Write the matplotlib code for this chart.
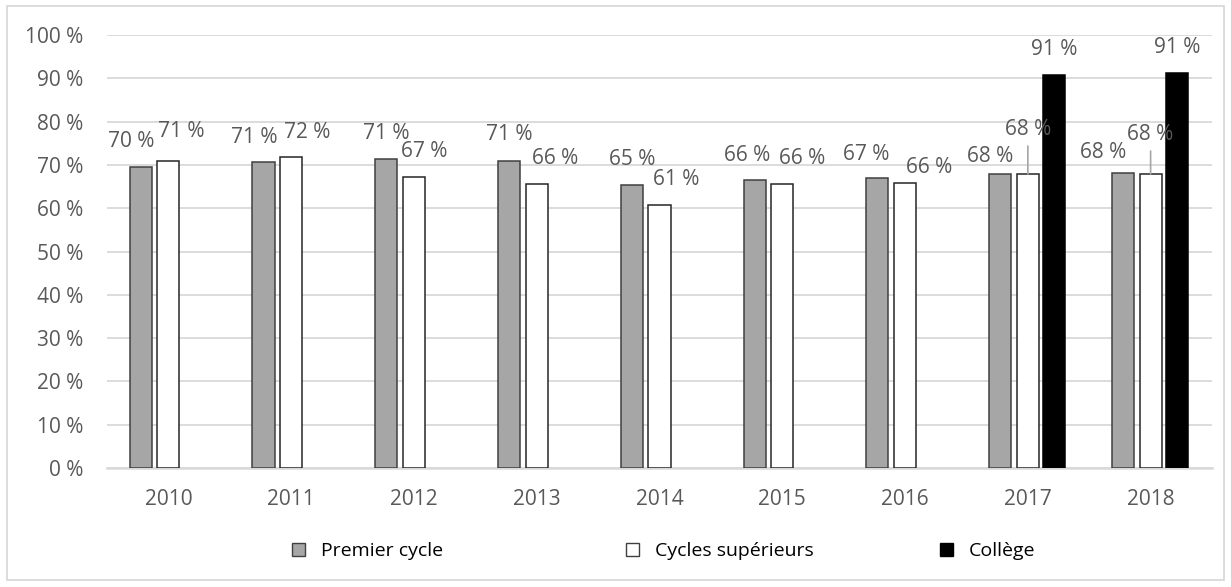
import numpy as np
import matplotlib.pyplot as plt
from matplotlib.patches import Rectangle, Patch

years = ['2010', '2011', '2012', '2013', '2014', '2015', '2016', '2017', '2018']
premier = [69.6, 70.6, 71.3, 70.8, 65.3, 66.4, 67.0, 67.9, 68.1]
superieurs = [71.0, 71.8, 67.1, 65.7, 60.7, 65.7, 65.8, 67.9, 67.9]
college = [np.nan] * 7 + [90.7, 91.2]

# label offsets in pixels (dx, dy above bar top)
off_premier = [(-10, 25), (-9, 25), (0, 26), (0, 27), (0, 26), (-8, 25), (-11, 23), (-10, 17), (-20, 21)]
off_sup = [(13, 29), (16, 25), (10, 26), (18, 25), (17, 26), (20, 25), (24, 16), (0, 44), (0, 39)]
off_college = [(0, 26)] * 9
# left edge of each legend entry (pixels)
legend_x = [292, 626, 940]

TEXT_GREY = '#595959'
FONT = 'Open Sans'
SIZE = 15
plt.rcParams['font.family'] = [FONT, 'DejaVu Sans']

fig = plt.figure(figsize=(12.31, 5.87), dpi=100)
ax = fig.add_axes([107 / 1231, 119 / 587, 1105 / 1231, 433 / 587])

x = np.arange(len(years))
w = 0.18
series = [
    (premier, -0.225, '#a6a6a6', '#404040', off_premier, 'Premier cycle'),
    (superieurs, 0.0, 'white', '#262626', off_sup, 'Cycles supérieurs'),
    (college, 0.215, 'black', 'black', off_college, 'Collège'),
]

for vals, shift, fc, ec, offs, name in series:
    ax.bar(x + shift, vals, width=w, color=fc, edgecolor=ec, linewidth=1.1, zorder=3)
    for i, v in enumerate(vals):
        if np.isnan(v):
            continue
        dx, dy = offs[i]
        arrow = None
        if name == 'Cycles supérieurs' and dy > 35:
            arrow = dict(arrowstyle='-', color='#a6a6a6', lw=1.2, shrinkA=2, shrinkB=0)
        ax.annotate(f"{v:.0f} %", (x[i] + shift, v), xytext=(dx, dy),
                    textcoords='offset pixels', ha='center', va='center',
                    fontsize=SIZE, color=TEXT_GREY, annotation_clip=False,
                    arrowprops=arrow, zorder=4)

ax.set_xlim(-0.5, len(years) - 0.5)
ax.set_ylim(0, 100)
ax.set_yticks(range(0, 101, 10))
ax.set_yticklabels([f"{t} %" for t in range(0, 101, 10)])
ax.set_xticks(x)
ax.set_xticklabels(years)
ax.tick_params(length=0, labelsize=SIZE, labelcolor=TEXT_GREY)
ax.tick_params(axis='y', pad=17)
ax.tick_params(axis='x', pad=15)
ax.grid(axis='y', color='#d9d9d9', linewidth=1.3, zorder=0)
for s in ['top', 'right', 'left']:
    ax.spines[s].set_visible(False)
ax.spines['bottom'].set_color('#d9d9d9')
ax.spines['bottom'].set_linewidth(1.8)

# one legend per entry, Excel spaces them unevenly
for (_, _, fc, _, _, name), lx in zip(series, legend_x):
    h = Patch(facecolor=fc, edgecolor=('#404040' if fc != 'black' else 'black'), linewidth=1, label=name)
    leg = fig.legend(handles=[h], loc='center left', bbox_to_anchor=(lx / 1231, 36 / 587),
                     frameon=False, fontsize=14, handlelength=0.65, handleheight=0.65,
                     handletextpad=0.85, borderpad=0, borderaxespad=0)
    leg.get_texts()[0].set_color('black')

fig.patches.append(Rectangle((7 / 1231, 7 / 587), 1217 / 1231, 574 / 587,
                             transform=fig.transFigure, fill=False,
                             edgecolor='#d9d9d9', linewidth=1.3))

plt.savefig('out.png', dpi=100)
